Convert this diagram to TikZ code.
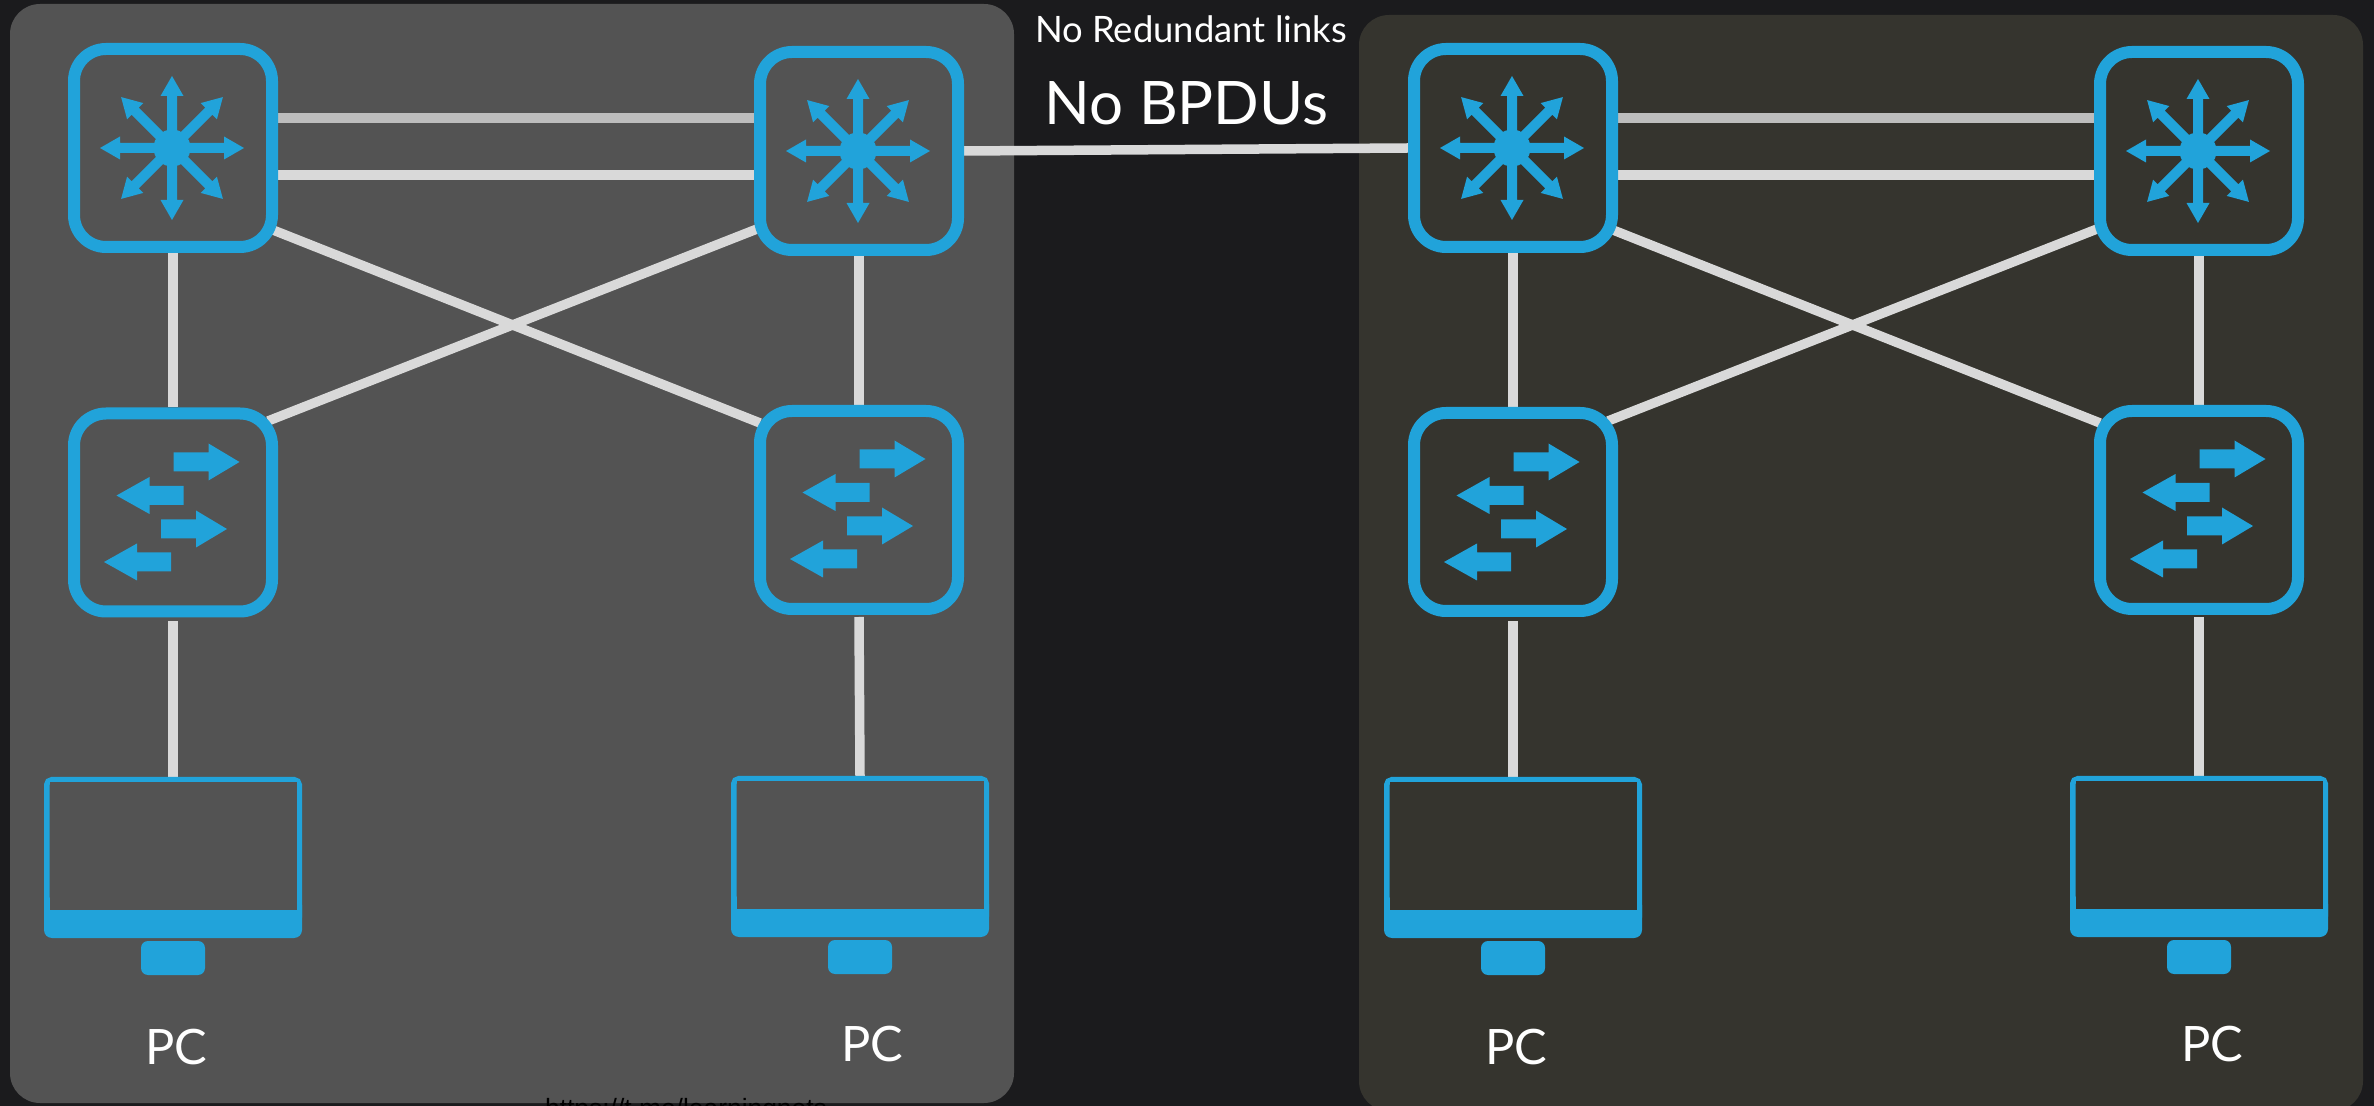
\documentclass[tikz,border=0pt]{standalone}
\usepackage{fontspec}
\setmainfont{Lato}
\newfontfamily\urlfont{Liberation Sans}
\definecolor{bgc}{HTML}{1B1B1D}
\definecolor{panelL}{HTML}{535353}
\definecolor{panelR}{HTML}{35342E}
\definecolor{netblue}{HTML}{21A3DA}
\definecolor{linkc}{HTML}{D9D9D9}
\definecolor{linkd}{HTML}{BDBDBD}
\pgfdeclarelayer{backdrop}
\pgfdeclarelayer{wires}
\pgfsetlayers{backdrop,wires,main}
\tikzset{
  devbox/.style={draw=netblue,line width=6pt,rounded corners=16pt,minimum width=99pt,minimum height=99pt,inner sep=0pt,outer sep=3pt,rectangle},
  link/.style={draw=linkc,line width=4.75pt},
  linkdark/.style={draw=linkd,line width=4.75pt},
  pcbody/.style={draw=netblue,line width=2.75pt,rounded corners=2.5pt},
  lbl/.style={text=white,inner sep=0pt,anchor=base},
}
% multilayer-switch icon: eight arrows from a hub
\newcommand{\hubicon}[1]{%
  \begin{scope}[shift={(#1)}]
    \foreach \a in {0,45,...,315}{%
      \begin{scope}[rotate=\a]
        \fill[netblue] (0,-5) -- (52,-5) -- (52,-11.5) -- (72,0) -- (52,11.5) -- (52,5) -- (0,5) -- cycle;
      \end{scope}
    }
    \fill[netblue] (0,0) circle (18.5);
  \end{scope}}
% right/left block arrows of the switch icon
\newcommand{\rarrow}[1]{\fill[netblue,shift={(#1)}] (0,-9.5) -- (35,-9.5) -- (35,-18.5) -- (66,0) -- (35,18.5) -- (35,9.5) -- (0,9.5) -- cycle;}
\newcommand{\larrow}[1]{\fill[netblue,shift={(#1)}] (0,-9.5) -- (-34,-9.5) -- (-34,-18.5) -- (-67,0) -- (-34,18.5) -- (-34,9.5) -- (0,9.5) -- cycle;}
\newcommand{\swicon}[1]{%
  \begin{scope}[shift={(#1)}]
    \rarrow{0,-100}
    \larrow{10,-66.5}
    \rarrow{-12.5,-33}
    \larrow{-2.5,0}
  \end{scope}}
\newcommand{\pcicon}[1]{%
  \begin{scope}[shift={(#1)}]
    \draw[pcbody] (-126.25,2.75) rectangle (126.25,145);
    \fill[netblue,rounded corners=4pt] (-129,120) rectangle (129,161);
    \fill[panelfill] (-123.5,5.5) rectangle (123.5,133);
    \fill[netblue,rounded corners=3.5pt] (-32,164) rectangle (32,198);
  \end{scope}}
\begin{document}
\begin{tikzpicture}[x=0.5pt,y=-0.5pt]
\useasboundingbox (0,0) rectangle (2374,1106);
\clip (0,0) rectangle (2374,1106);
\begin{pgfonlayer}{backdrop}
\fill[bgc] (0,0) rectangle (2374,1106);
\fill[panelL,rounded corners=15pt] (10,4) rectangle (1014,1103);
\fill[panelR,rounded corners=15pt] (1359,15) rectangle (2363,1111);
\end{pgfonlayer}

% devices, left
\node[devbox] (la) at (173,148) {};
\node[devbox] (lb) at (859,151) {};
\node[devbox] (lc) at (173,512.5) {};
\node[devbox] (ld) at (859,510) {};
\coordinate (lp1) at (173,777);
\coordinate (lp2) at (860,776);
% devices, right
\node[devbox] (ra) at (1513,148) {};
\node[devbox] (rb) at (2199,151) {};
\node[devbox] (rc) at (1513,512) {};
\node[devbox] (rd) at (2199,510) {};
\coordinate (rp1) at (1513,777);
\coordinate (rp2) at (2199,776);

\begin{pgfonlayer}{wires}
% links, left
\coordinate (la1) at (270,118); \coordinate (lb1) at (760,118);
\coordinate (la2) at (270,175); \coordinate (lb2) at (760,175);
\draw[linkdark] (la1) -- (lb1);
\draw[link] (la2) -- (lb2);
\coordinate (ld0) at (273,230); \coordinate (ld1) at (760,423);
\coordinate (ld2) at (268,421); \coordinate (ld3) at (757,229);
\draw[link] (ld0) -- (ld1);
\draw[link] (ld2) -- (ld3);
\draw[link] (la.south) -- (lc.north);
\draw[link] (lb.south) -- (ld.north);
\draw[link] (lc.south) ++(0,4) -- (lp1);
\draw[link] (ld.south) ++(0,2) -- (lp2);
% links, right
\coordinate (ra1) at (1610,118); \coordinate (rb1) at (2100,118);
\coordinate (ra2) at (1610,175); \coordinate (rb2) at (2100,175);
\draw[linkdark] (ra1) -- (rb1);
\draw[link] (ra2) -- (rb2);
\coordinate (rd0) at (1613,230); \coordinate (rd1) at (2100,423);
\coordinate (rd2) at (1608,421); \coordinate (rd3) at (2097,229);
\draw[link] (rd0) -- (rd1);
\draw[link] (rd2) -- (rd3);
\draw[link] (ra.south) -- (rc.north);
\draw[link] (rb.south) -- (rd.north);
\draw[link] (rc.south) ++(0,4) -- (rp1);
\draw[link] (rd.south) ++(0,2) -- (rp2);
% bridge between the two sides
\draw[link] (lb.east) -- (ra.west);
\end{pgfonlayer}

% icons
\hubicon{172,148}
\hubicon{858,151}
\hubicon{1512,148}
\hubicon{2198,151}
\swicon{173.5,562}
\swicon{859.5,559}
\swicon{1513.5,562}
\swicon{2199.5,559}
\colorlet{panelfill}{panelL}
\pcicon{173,777}
\pcicon{860,776}
\colorlet{panelfill}{panelR}
\pcicon{1513,777}
\pcicon{2199,776}

% text
\node[lbl,font=\fontsize{18.2pt}{20pt}\selectfont] (t1) at (1191,43) {No Redundant links};
\node[lbl,font=\fontsize{30pt}{32pt}\selectfont] (t2) at (1186.5,125) {No BPDUs};
\node[lbl,font=\fontsize{24.4pt}{26pt}\selectfont] (p1) at (176,1064) {PC};
\node[lbl,font=\fontsize{24.4pt}{26pt}\selectfont] (p2) at (872,1061) {PC};
\node[lbl,font=\fontsize{24.4pt}{26pt}\selectfont] (p3) at (1516,1064) {PC};
\node[lbl,font=\fontsize{24.4pt}{26pt}\selectfont] (p4) at (2212,1061) {PC};
\node[inner sep=0pt,anchor=base,text=black,font=\urlfont\fontsize{13.2pt}{15pt}\selectfont] (url) at (686,1117) {https://t.me/learningnets};
\end{tikzpicture}
\end{document}
